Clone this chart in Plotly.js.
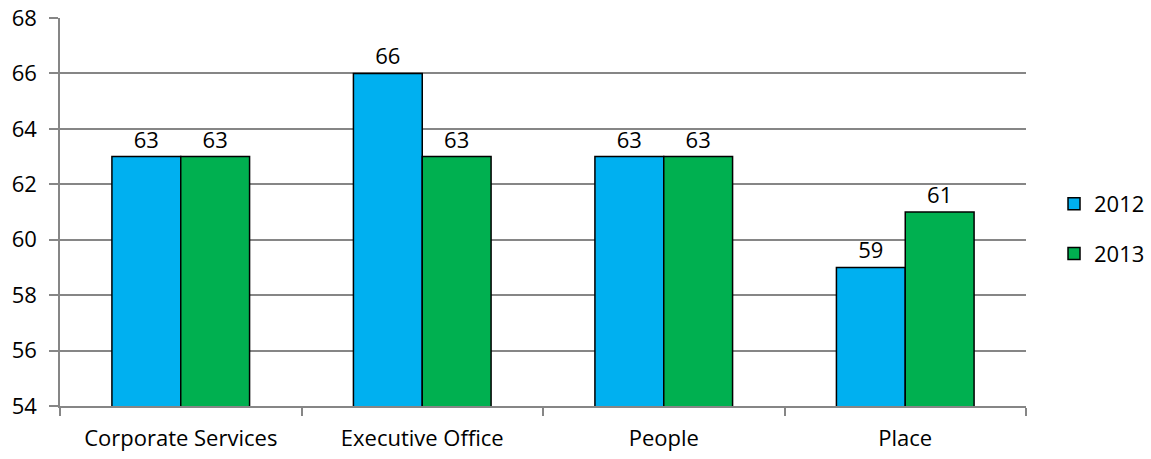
<!DOCTYPE html>
<html><head><meta charset="utf-8">
<script src="https://cdn.plot.ly/plotly-3.0.1.min.js"></script>
<style>body{margin:0;background:#fff}#c{width:1151px;height:459px}</style>
</head><body><div id="c"></div>
<script>
const categories = ["Corporate Services", "Executive Office", "People", "Place"];
const values2012 = [63, 66, 63, 59];
const values2013 = [63, 63, 63, 61];
const yTicks = [54, 56, 58, 60, 62, 64, 66, 68];
const FONT = "'Open Sans', sans-serif";
function mk(name, vals, color) {
  return {type: 'bar', name: name, legendgroup: name, x: categories, y: vals,
    text: vals.map(String), textposition: 'outside', cliponaxis: false, constraintext: 'none',
    textfont: {family: FONT, size: 22, color: '#000'},
    marker: {color: color, line: {color: '#000', width: 1.5}}};
}
const data = [mk('2012', values2012, '#00B0F0'), mk('2013', values2013, '#00B050')];
const layout = {
  width: 1151, height: 459, margin: {l: 60, r: 125, t: 18, b: 53, autoexpand: false},
  paper_bgcolor: '#fff', plot_bgcolor: '#fff',
  font: {family: FONT, size: 22, color: '#000'},
  barmode: 'group', bargap: 0.43, bargroupgap: 0,
  xaxis: {showline: true, linecolor: '#868686', linewidth: 1.5, ticks: 'outside', tickson: 'boundaries',
          ticklen: 8, tickcolor: '#868686', tickwidth: 1.5, showgrid: false, ticklabelstandoff: 12,
          tickfont: {family: FONT, size: 22}},
  yaxis: {range: [54, 68], tickvals: yTicks, showline: true, linecolor: '#868686', linewidth: 1.5,
          ticks: 'outside', ticklen: 9, tickcolor: '#868686', tickwidth: 1.5, ticklabelstandoff: 8,
          gridcolor: '#868686', gridwidth: 1.5, zeroline: false, tickfont: {family: FONT, size: 22}},
  legend: {x: 1.029, y: 0.456, xanchor: 'left', yanchor: 'middle', font: {family: FONT, size: 22},
           tracegroupgap: 18, itemwidth: 30},
  showlegend: true
};
Plotly.newPlot('c', data, layout, {displayModeBar: false});
</script></body></html>
